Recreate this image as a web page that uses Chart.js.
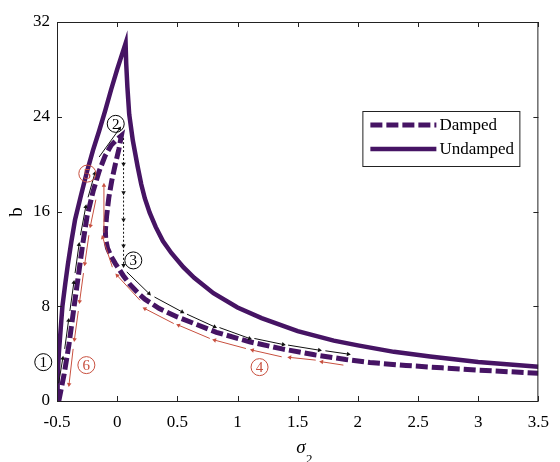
<!DOCTYPE html>
<html>
<head>
<meta charset="utf-8">
<script src="https://cdn.jsdelivr.net/npm/chart.js@4.4.1/dist/chart.umd.min.js"></script>
<style>
    html, body { margin: 0; padding: 0; background: #fff; }
    canvas { display: block; }
</style>
</head>
<body>
<canvas id="chart" width="560" height="462"></canvas>
<script>
// Eixos
const xTicks = [-0.5, 0, 0.5, 1, 1.5, 2, 2.5, 3, 3.5];
const yTicks = [0, 8, 16, 24, 32];

// Curvas (sigma2, b)
const undampedX = [-0.5, -0.495, -0.485, -0.47, -0.455, -0.43, -0.41, -0.38, -0.35, -0.3, -0.25, -0.2, -0.15, -0.1, -0.05, 0, 0.07,
    0.075, 0.085, 0.1, 0.13, 0.17, 0.2, 0.23, 0.27, 0.32, 0.38, 0.45, 0.55, 0.64, 0.8, 1.0, 1.2, 1.5, 1.8, 2.0, 2.3, 2.6, 3.0, 3.5];
const undampedY = [0, 2, 4, 6, 8, 10, 11.5, 13.5, 15.3, 17.4, 19.4, 21.2, 22.8, 24.5, 26.3, 28, 30.2,
    28.5, 26.5, 24.2, 22.0, 19.8, 18.3, 17.1, 15.9, 14.7, 13.5, 12.5, 11.3, 10.4, 9.1, 7.9, 7.0, 5.9, 5.1, 4.7, 4.15, 3.75, 3.3, 2.9];

const dampedX = [-0.485, -0.44, -0.40, -0.363, -0.325, -0.287, -0.25, -0.2, -0.15, -0.1, -0.05, 0, 0.035,
    0.015, -0.015, -0.045, -0.069, -0.088, -0.098, -0.095, -0.08, -0.055, -0.015, 0.05, 0.1, 0.175, 0.23, 0.35, 0.5,
    0.65, 0.825, 1.1, 1.37, 1.64, 1.9, 2.1, 2.4, 2.7, 3.0, 3.5];
const dampedY = [0, 2.3, 4.8, 7.6, 10.4, 13.2, 15.6, 17.7, 19.4, 20.7, 21.6, 22.1, 22.4,
    21.3, 20.0, 18.6, 17.2, 15.6, 14.4, 13.6, 12.9, 12.3, 11.6, 10.6, 9.9, 9.1, 8.6, 7.8, 7.1,
    6.5, 5.8, 5.0, 4.4, 3.9, 3.5, 3.25, 3.0, 2.8, 2.6, 2.35];

// Setas: [x0, y0, x1, y1]
const blackUp = [
    [-0.486, 1.5, -0.452, 3.6], [-0.436, 4.4, -0.404, 6.8], [-0.393, 7.6, -0.36, 10.0],
    [-0.35, 10.8, -0.317, 13.2], [-0.305, 14.0, -0.261, 16.4], [-0.242, 17.2, -0.186, 19.2],
    [-0.15, 20.6, 0.02, 23.0]
];
const blackJump = [
    [0.053, 22.2, 0.053, 20.0], [0.053, 20.0, 0.053, 17.6], [0.053, 17.6, 0.053, 15.3],
    [0.053, 15.3, 0.053, 13.1], [0.053, 13.1, 0.053, 11.45]
];
const blackRight = [
    [0.08, 10.9, 0.265, 9.07], [0.31, 8.78, 0.54, 7.52], [0.58, 7.33, 0.81, 6.26],
    [0.85, 6.2, 1.10, 5.28], [1.14, 5.28, 1.38, 4.77], [1.42, 4.72, 1.68, 4.29],
    [1.73, 4.24, 1.92, 3.96]
];
const redLeft = [
    [1.88, 3.03, 1.70, 3.31], [1.65, 3.45, 1.435, 3.68], [1.367, 3.73, 1.124, 4.29],
    [1.07, 4.43, 0.81, 5.14], [0.77, 5.28, 0.51, 6.4], [0.47, 6.54, 0.23, 7.8],
    [0.19, 8.5, 0.0, 10.6], [-0.04, 11.3, -0.12, 13.8]
];
const redJump = [[-0.11, 14.2, -0.11, 18.2]];
const redDown = [
    [-0.177, 17.0, -0.222, 14.8], [-0.235, 14.0, -0.269, 11.6], [-0.28, 10.8, -0.312, 8.4],
    [-0.323, 7.6, -0.355, 5.2], [-0.366, 4.4, -0.40, 1.4]
];

// Números circulados
const stepLabels = ['1', '2', '3', '4', '5', '6'];
const stepX = [-0.614, -0.012, 0.134, 1.183, -0.248, -0.256];
const stepY = [3.28, 23.4, 11.87, 2.86, 19.2, 3.03];
const stepRed = [false, false, false, true, true, true];

const PURPLE = '#461464';
const RED = '#c8503f';
const SERIF = '"Liberation Serif", "Times New Roman", serif';

function toPoints(xs, ys) {
    return xs.map((x, i) => ({ x: x, y: ys[i] }));
}

function arrowData(segs) {
    const out = [];
    segs.forEach(s => {
        out.push({ x: s[0], y: s[1] }, { x: s[2], y: s[3] }, { x: s[2], y: null });
    });
    return out;
}

function arrowSet(segs, color, dash) {
    return {
        data: arrowData(segs),
        borderColor: color,
        backgroundColor: color,
        borderWidth: 1,
        borderDash: dash || [],
        tension: 0,
        spanGaps: false,
        order: 1,
        pointStyle: 'triangle',
        pointRadius: ctx => (ctx.dataIndex % 3 === 1 ? 2.6 : 0),
        pointHoverRadius: 0,
        pointBorderWidth: 0,
        pointBackgroundColor: color,
        pointRotation: ctx => {
            const i = ctx.dataIndex;
            if (i % 3 !== 1) return 0;
            const d = ctx.dataset.data;
            const sx = ctx.chart.scales.x, sy = ctx.chart.scales.y;
            const dx = sx.getPixelForValue(d[i].x) - sx.getPixelForValue(d[i - 1].x);
            const dy = sy.getPixelForValue(d[i].y) - sy.getPixelForValue(d[i - 1].y);
            return Math.atan2(dx, -dy) * 180 / Math.PI;
        }
    };
}

// Moldura, ticks internos, títulos, legenda e números
const decorPlugin = {
    id: 'decor',
    afterDraw(chart) {
        const { ctx, chartArea: a, scales: { x, y } } = chart;
        ctx.save();
        ctx.strokeStyle = '#222';
        ctx.lineWidth = 1;
        ctx.setLineDash([]);
        ctx.strokeRect(a.left + 0.5, a.top + 0.5, a.right - a.left - 1, a.bottom - a.top);

        ctx.beginPath();
        xTicks.forEach(v => {
            const px = Math.round(x.getPixelForValue(v)) + 0.5;
            ctx.moveTo(px, a.bottom); ctx.lineTo(px, a.bottom - 5);
            ctx.moveTo(px, a.top); ctx.lineTo(px, a.top + 5);
        });
        yTicks.forEach(v => {
            const py = Math.round(y.getPixelForValue(v)) + 0.5;
            ctx.moveTo(a.left, py); ctx.lineTo(a.left + 5, py);
            ctx.moveTo(a.right, py); ctx.lineTo(a.right - 5, py);
        });
        ctx.stroke();

        // títulos
        ctx.fillStyle = '#000';
        ctx.font = 'italic 19px ' + SERIF;
        ctx.textAlign = 'center';
        ctx.textBaseline = 'alphabetic';
        ctx.fillText('σ', 301, 453);
        ctx.font = '13px ' + SERIF;
        ctx.textAlign = 'left';
        ctx.fillText('2', 306, 463);

        ctx.save();
        ctx.translate(17, 212);
        ctx.rotate(-Math.PI / 2);
        ctx.font = '19px ' + SERIF;
        ctx.textAlign = 'center';
        ctx.textBaseline = 'middle';
        ctx.fillText('b', 0, 0);
        ctx.restore();

        // números circulados
        stepLabels.forEach((t, i) => {
            const cx = x.getPixelForValue(stepX[i]);
            const cy = y.getPixelForValue(stepY[i]);
            const col = stepRed[i] ? RED : '#000';
            ctx.strokeStyle = col;
            ctx.fillStyle = col;
            ctx.lineWidth = 1;
            ctx.beginPath();
            ctx.arc(cx, cy, 8.5, 0, Math.PI * 2);
            ctx.stroke();
            ctx.font = '15px ' + SERIF;
            ctx.textAlign = 'center';
            ctx.textBaseline = 'middle';
            ctx.fillText(t, cx, cy + 1);
        });

        // legenda
        const lx = a.right - 176, ly = a.top + 89, lw = 157, lh = 55;
        ctx.fillStyle = '#fff';
        ctx.fillRect(lx, ly, lw, lh);
        ctx.strokeStyle = '#222';
        ctx.lineWidth = 1;
        ctx.strokeRect(lx + 0.5, ly + 0.5, lw, lh);
        const entries = chart.data.datasets.filter(ds => ds.label);
        entries.forEach((ds, i) => {
            const yy = ly + 14 + i * 24;
            ctx.strokeStyle = ds.borderColor;
            ctx.lineWidth = ds.borderWidth;
            ctx.setLineDash(ds.borderDash || []);
            ctx.beginPath();
            ctx.moveTo(lx + 8, yy);
            ctx.lineTo(lx + 74, yy);
            ctx.stroke();
            ctx.setLineDash([]);
            ctx.fillStyle = '#000';
            ctx.font = '17px ' + SERIF;
            ctx.textAlign = 'left';
            ctx.textBaseline = 'middle';
            ctx.fillText(ds.label, lx + 77, yy + 1);
        });
        ctx.restore();
    }
};

const datasets = [
    {
        label: 'Damped',
        data: toPoints(dampedX, dampedY),
        borderColor: PURPLE,
        borderWidth: 5,
        borderDash: [12, 4],
        tension: 0,
        pointRadius: 0,
        order: 2
    },
    {
        label: 'Undamped',
        data: toPoints(undampedX, undampedY),
        borderColor: PURPLE,
        borderWidth: 4.5,
        tension: 0,
        pointRadius: 0,
        order: 2
    },
    arrowSet(blackUp, '#111'),
    arrowSet(blackJump, '#111', [2, 2]),
    arrowSet(blackRight, '#111'),
    arrowSet(redLeft, RED),
    arrowSet(redJump, RED),
    arrowSet(redDown, RED)
];

new Chart(document.getElementById('chart'), {
    type: 'line',
    data: { datasets: datasets },
    options: {
        responsive: false,
        animation: false,
        events: [],
        layout: { padding: { left: 0, top: 22, right: 12, bottom: 0 } },
        plugins: { legend: { display: false }, tooltip: { enabled: false } },
        scales: {
            x: {
                type: 'linear',
                min: -0.5,
                max: 3.5,
                afterBuildTicks: s => { s.ticks = xTicks.map(v => ({ value: v })); },
                afterFit: s => { s.height = 61; },
                grid: { display: false, drawTicks: false },
                border: { display: false },
                ticks: {
                    padding: 11,
                    color: '#000',
                    maxRotation: 0,
                    font: { family: SERIF, size: 17 },
                    callback: v => String(v)
                }
            },
            y: {
                type: 'linear',
                min: 0,
                max: 32,
                afterBuildTicks: s => { s.ticks = yTicks.map(v => ({ value: v })); },
                afterFit: s => { s.width = 57; },
                grid: { display: false, drawTicks: false },
                border: { display: false },
                ticks: {
                    padding: 7,
                    color: '#000',
                    font: { family: SERIF, size: 17 },
                    callback: v => String(v)
                }
            }
        }
    },
    plugins: [decorPlugin]
});
</script>
</body>
</html>
